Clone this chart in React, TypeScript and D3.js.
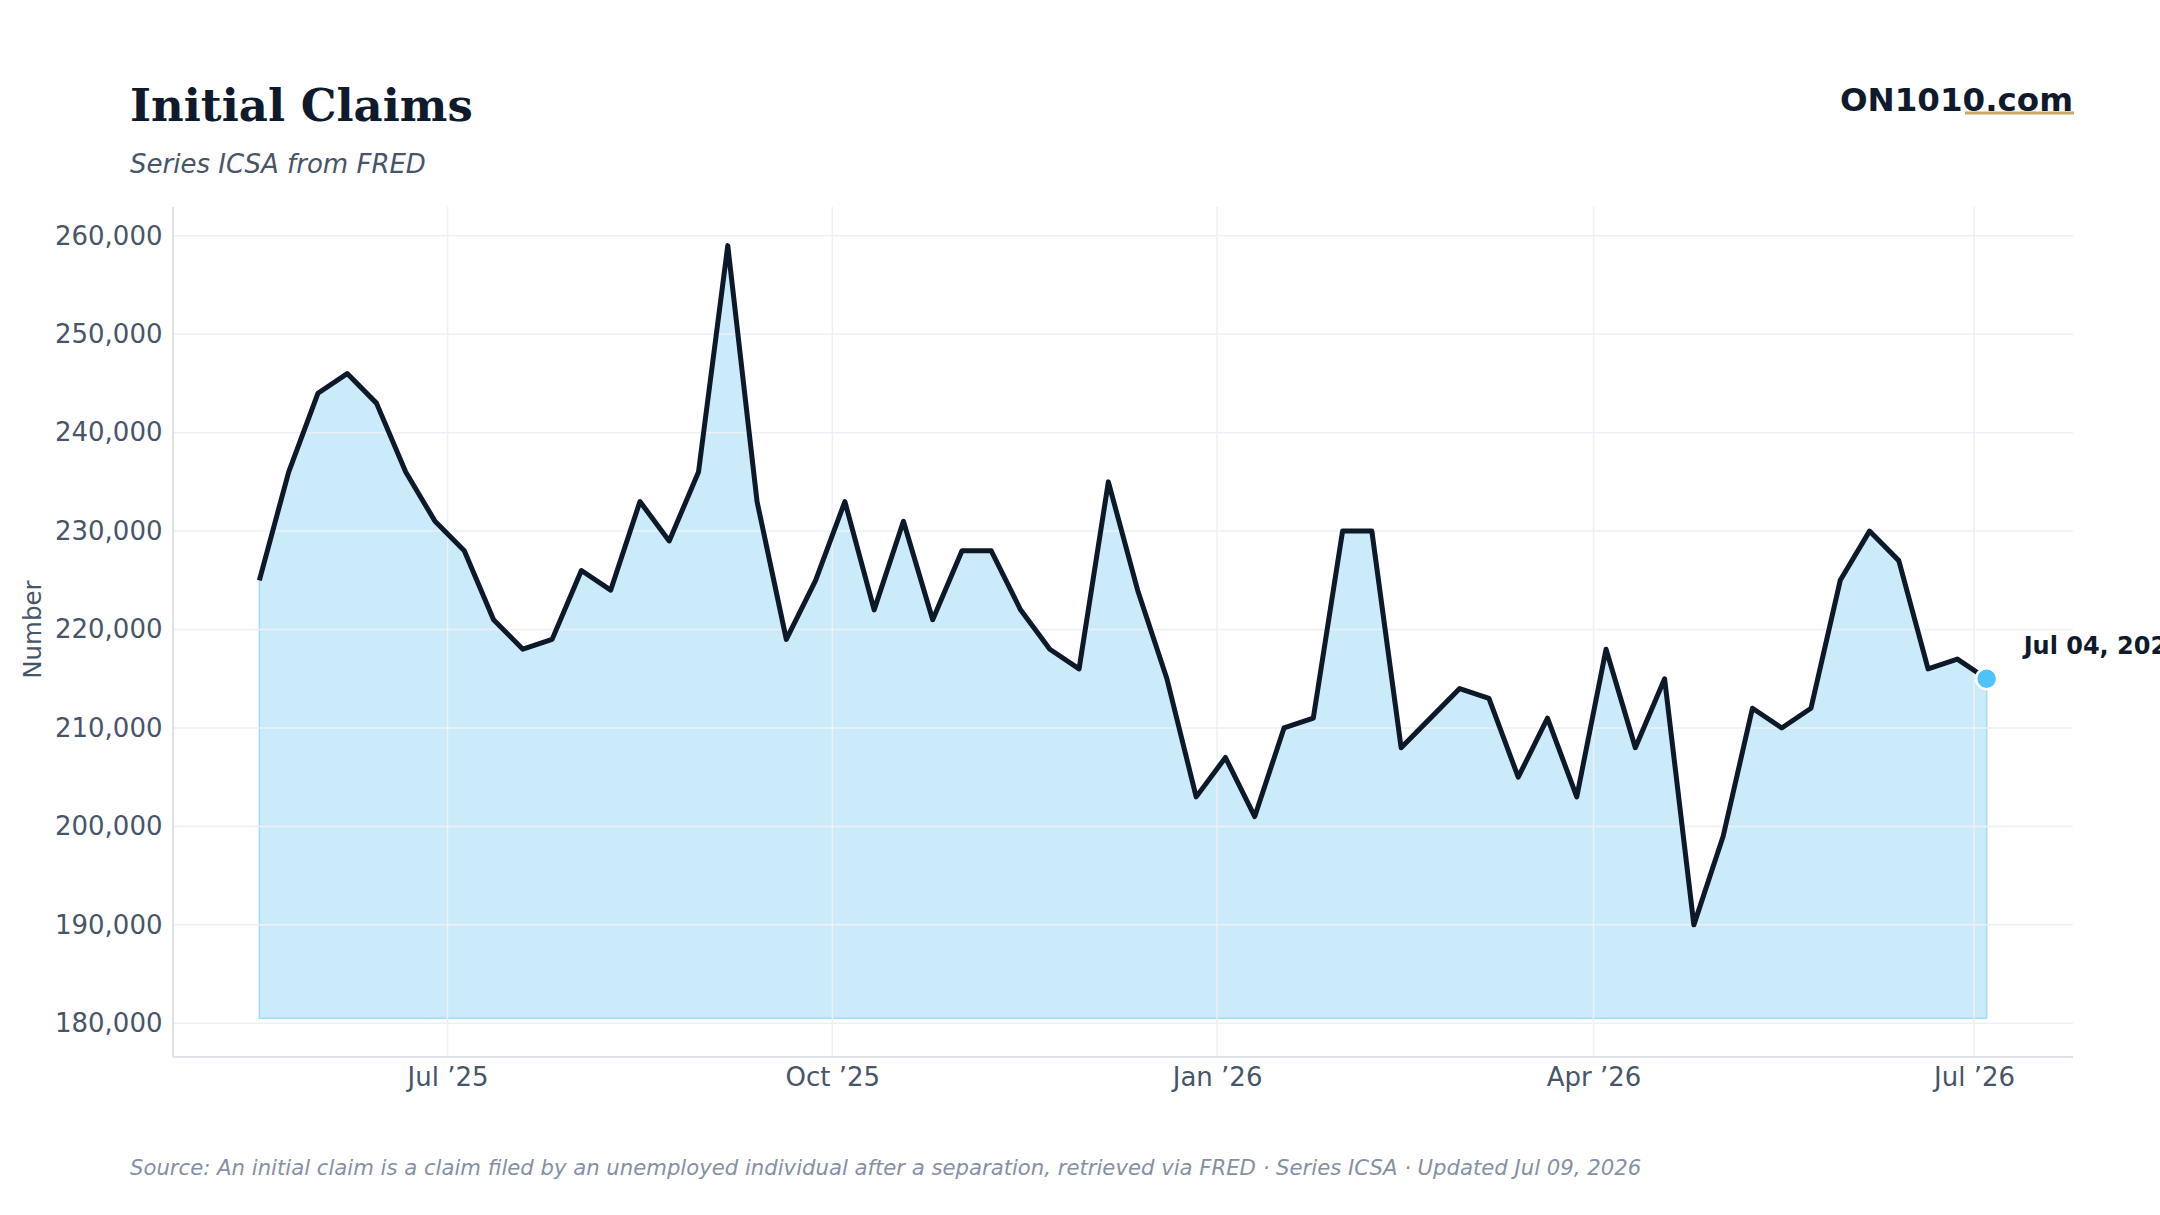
import React, { useEffect, useRef } from 'react';
import * as d3 from 'd3';

// Weekly initial claims (ICSA), weeks ending on Saturday
const firstWeek = '2025-05-17';
const claims = [
  225000, 236000, 244000, 246000, 243000, 236000, 231000, 228000, 221000, 218000,
  219000, 226000, 224000, 233000, 229000, 236000, 259000, 233000, 219000, 225000,
  233000, 222000, 231000, 221000, 228000, 228000, 222000, 218000, 216000, 235000,
  224000, 215000, 203000, 207000, 201000, 210000, 211000, 230000, 230000, 208000,
  211000, 214000, 213000, 205000, 211000, 203000, 218000, 208000, 215000, 190000,
  199000, 212000, 210000, 212000, 225000, 230000, 227000, 216000, 217000, 215000,
];

const yTicks = [180000, 190000, 200000, 210000, 220000, 230000, 240000, 250000, 260000];
const xTickDates = ['2025-07-01', '2025-10-01', '2026-01-01', '2026-04-01', '2026-07-01'];

const title = 'Initial Claims';
const subtitle = 'Series ICSA from FRED';
const yLabel = 'Number';
const brand = 'ON1010.com';
const footer =
  'Source: An initial claim is a claim filed by an unemployed individual after a separation, retrieved via FRED · Series ICSA · Updated Jul 09, 2026';

const W = 2160;
const H = 1215;
const margin = { top: 207, right: 87, bottom: 158, left: 173 };
const SANS = '"DejaVu Sans", sans-serif';

const App = () => {
  const svgRef = useRef<SVGSVGElement>(null);

  useEffect(() => {
    const parse = d3.timeParse('%Y-%m-%d');
    const start = parse(firstWeek) as Date;
    const data = claims.map((value, i) => ({ date: d3.timeDay.offset(start, 7 * i), value }));

    const innerW = W - margin.left - margin.right;
    const innerH = H - margin.top - margin.bottom;

    const svg = d3.select(svgRef.current);
    svg.selectAll('*').remove();

    // Scales, padded 5% on each side
    const t0 = +data[0].date;
    const t1 = +data[data.length - 1].date;
    const tPad = (t1 - t0) * 0.05;
    const xScale = d3.scaleTime()
      .domain([new Date(t0 - tPad), new Date(t1 + tPad)])
      .range([0, innerW]);

    const base = (d3.min(claims) as number) * 0.95;
    const peak = d3.max(claims) as number;
    const yPad = (peak - base) * 0.05;
    const yScale = d3.scaleLinear()
      .domain([base - yPad, peak + yPad])
      .range([innerH, 0]);

    // Header
    svg.append('text')
      .attr('x', 130).attr('y', 121)
      .style('font-family', '"DejaVu Serif", serif')
      .style('font-weight', 'bold')
      .style('font-size', '45px')
      .attr('fill', '#0f1b2d')
      .text(title);

    svg.append('text')
      .attr('x', 130).attr('y', 172.5)
      .style('font-family', SANS)
      .style('font-style', 'italic')
      .style('font-size', '26px')
      .attr('fill', '#475569')
      .text(subtitle);

    svg.append('text')
      .attr('x', W - margin.right).attr('y', 111)
      .attr('text-anchor', 'end')
      .style('font-family', SANS)
      .style('font-weight', 'bold')
      .style('font-size', '32.5px')
      .attr('fill', '#0f1b2d')
      .text(brand);

    svg.append('rect')
      .attr('x', W - margin.right - 108).attr('y', 111.5)
      .attr('width', 109).attr('height', 3)
      .attr('fill', '#c8aa6e');

    const g = svg.append('g')
      .attr('transform', `translate(${margin.left},${margin.top})`);

    // Area under the series
    const area = d3.area<{ date: Date; value: number }>()
      .x(d => xScale(d.date))
      .y0(yScale(base))
      .y1(d => yScale(d.value));

    g.append('path')
      .datum(data)
      .attr('d', area)
      .attr('fill', '#cbeafa')
      .attr('stroke', '#a6dbf4')
      .attr('stroke-width', 1.5);

    // Grid
    const xTicks = xTickDates.map(s => parse(s) as Date);
    g.append('g')
      .selectAll('line')
      .data(yTicks)
      .join('line')
      .attr('x1', 0).attr('x2', innerW)
      .attr('y1', d => yScale(d)).attr('y2', d => yScale(d))
      .attr('stroke', '#edf0f4')
      .attr('stroke-width', 1.5);

    g.append('g')
      .selectAll('line')
      .data(xTicks)
      .join('line')
      .attr('x1', d => xScale(d)).attr('x2', d => xScale(d))
      .attr('y1', 0).attr('y2', innerH)
      .attr('stroke', '#edf0f4')
      .attr('stroke-width', 1.5);

    // Axes
    const yAxis = g.append('g')
      .call(d3.axisLeft(yScale).tickValues(yTicks).tickFormat(d3.format(',')).tickSize(0).tickPadding(10.5));
    yAxis.select('.domain').remove();
    yAxis.selectAll('text')
      .style('font-family', SANS)
      .style('font-size', '26px')
      .attr('fill', '#475569');

    const xAxis = g.append('g')
      .attr('transform', `translate(0,${innerH})`)
      .call(d3.axisBottom(xScale).tickValues(xTicks).tickFormat(d3.timeFormat('%b ’%y') as any).tickSize(0).tickPadding(11));
    xAxis.select('.domain').remove();
    xAxis.selectAll('text')
      .style('font-family', SANS)
      .style('font-size', '26px')
      .attr('fill', '#475569');

    g.append('line')
      .attr('x1', 0).attr('x2', 0).attr('y1', 0).attr('y2', innerH)
      .attr('stroke', '#dfe3e8').attr('stroke-width', 2);
    g.append('line')
      .attr('x1', 0).attr('x2', innerW).attr('y1', innerH).attr('y2', innerH)
      .attr('stroke', '#dfe3e8').attr('stroke-width', 2);

    g.append('text')
      .attr('transform', 'rotate(-90)')
      .attr('x', -(yScale(220000)))
      .attr('y', -132)
      .attr('text-anchor', 'middle')
      .style('font-family', SANS)
      .style('font-size', '24.5px')
      .attr('fill', '#475569')
      .text(yLabel);

    // Series line
    const line = d3.line<{ date: Date; value: number }>()
      .x(d => xScale(d.date))
      .y(d => yScale(d.value));

    g.append('path')
      .datum(data)
      .attr('d', line)
      .attr('fill', 'none')
      .attr('stroke', '#0d1829')
      .attr('stroke-width', 5)
      .attr('stroke-linejoin', 'round');

    // Latest observation
    const last = data[data.length - 1];
    g.append('circle')
      .attr('cx', xScale(last.date))
      .attr('cy', yScale(last.value))
      .attr('r', 10.5)
      .attr('fill', '#4fc3f7')
      .attr('stroke', '#ffffff')
      .attr('stroke-width', 2.5);

    g.append('text')
      .attr('x', xScale(last.date) + 37)
      .attr('y', yScale(last.value) - 25)
      .style('font-family', SANS)
      .style('font-weight', 'bold')
      .style('font-size', '24px')
      .attr('fill', '#0f1b2d')
      .text(d3.timeFormat('%b %d, %Y')(last.date));

    // Footer
    svg.append('text')
      .attr('x', 130).attr('y', 1175)
      .style('font-family', SANS)
      .style('font-style', 'italic')
      .style('font-size', '21.2px')
      .attr('fill', '#8490a4')
      .text(footer);
  }, []);

  return (
    <svg
      ref={svgRef}
      width={W}
      height={H}
      style={{ position: 'absolute', left: 0, top: 0, background: '#ffffff' }}
    />
  );
};

export default App;
